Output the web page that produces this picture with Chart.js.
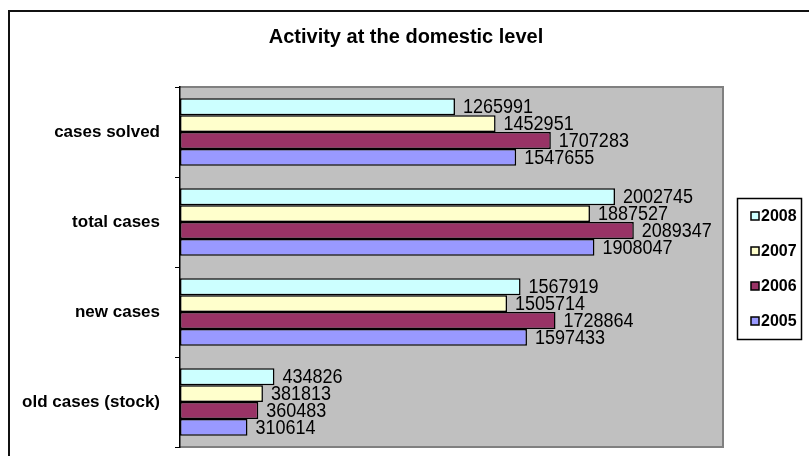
<!DOCTYPE html>
<html>
<head>
<meta charset="utf-8">
<title>Activity at the domestic level</title>
<script src="https://cdn.jsdelivr.net/npm/chart.js@4.4.1/dist/chart.umd.min.js"></script>
<style>
  html, body { margin: 0; padding: 0; background: #fff; }
  #wrap { width: 809px; height: 456px; }
</style>
</head>
<body>
<div id="wrap"><canvas id="activityChart" width="809" height="456"></canvas></div>
<script>
// ---------- data ----------
const categories = ['cases solved', 'total cases', 'new cases', 'old cases (stock)'];
const years      = ['2008', '2007', '2006', '2005'];
const v2008 = [1265991, 2002745, 1567919, 434826];
const v2007 = [1452951, 1887527, 1505714, 381813];
const v2006 = [1707283, 2089347, 1728864, 360483];
const v2005 = [1547655, 1908047, 1597433, 310614];
const xMax  = 2500000;

const COLORS = ['#ccffff', '#ffffcc', '#993366', '#9999ff'];
const FONT = "'Liberation Sans', Arial, sans-serif";
const TITLE = 'Activity at the domestic level';

// ---------- frame: outer border, title, grey plot area ----------
const framePlugin = {
  id: 'frame',
  beforeDraw(chart) {
    const ctx = chart.ctx;
    const a = chart.chartArea;
    ctx.save();
    ctx.fillStyle = '#fff';
    ctx.fillRect(0, 0, chart.width, chart.height);

    // outer chart border (right/bottom sides fall outside the picture)
    ctx.strokeStyle = '#111';
    ctx.lineWidth = 2;
    ctx.beginPath();
    ctx.moveTo(9, chart.height + 2);
    ctx.lineTo(9, 11);
    ctx.lineTo(chart.width + 2, 11);
    ctx.stroke();

    // title
    ctx.fillStyle = '#000';
    ctx.font = 'bold 20px ' + FONT;
    ctx.textAlign = 'center';
    ctx.textBaseline = 'middle';
    ctx.fillText(TITLE, 406, 37);

    // plot background
    ctx.fillStyle = '#c0c0c0';
    ctx.fillRect(a.left, a.top, a.right - a.left, a.bottom - a.top);
    ctx.strokeStyle = '#808080';
    ctx.lineWidth = 2;
    ctx.beginPath();
    ctx.moveTo(a.left, a.top);
    ctx.lineTo(a.right, a.top);
    ctx.lineTo(a.right, a.bottom);
    ctx.lineTo(a.left, a.bottom);
    ctx.stroke();
    ctx.restore();
  }
};

// ---------- value labels right of each bar (slightly condensed, like the source) ----------
const valueLabels = {
  id: 'valueLabels',
  afterDatasetsDraw(chart) {
    const ctx = chart.ctx;
    ctx.save();
    ctx.fillStyle = '#000';
    ctx.font = '20px ' + FONT;
    ctx.textAlign = 'left';
    ctx.textBaseline = 'middle';
    chart.data.datasets.forEach((ds, di) => {
      const meta = chart.getDatasetMeta(di);
      meta.data.forEach((el, i) => {
        ctx.save();
        ctx.translate(el.x + 8, el.y + 1);
        ctx.scale(0.9, 1);
        ctx.fillText(String(ds.data[i]), 0, 0);
        ctx.restore();
      });
    });
    ctx.restore();
  }
};

// ---------- boxed legend on the right ----------
const boxLegend = {
  id: 'boxLegend',
  afterDraw(chart) {
    const ctx = chart.ctx;
    ctx.save();
    ctx.strokeStyle = '#000';
    ctx.lineWidth = 1.5;
    ctx.strokeRect(737.5, 198.5, 64, 141);
    ctx.font = 'bold 16px ' + FONT;
    ctx.textAlign = 'left';
    ctx.textBaseline = 'middle';
    chart.data.datasets.forEach((ds, i) => {
      const y = 216 + i * 35;
      ctx.fillStyle = ds.backgroundColor;
      ctx.fillRect(751, y - 4, 8, 8);
      ctx.lineWidth = 1.5;
      ctx.strokeRect(751, y - 4, 8, 8);
      ctx.fillStyle = '#000';
      ctx.fillText(ds.label, 761, y + 1);
    });
    ctx.restore();
  }
};

const series = [v2008, v2007, v2006, v2005];

new Chart(document.getElementById('activityChart'), {
  type: 'bar',
  data: {
    labels: categories,
    datasets: years.map((y, i) => ({
      label: y,
      data: series[i],
      backgroundColor: COLORS[i],
      borderColor: '#000',
      borderWidth: 1.5,
      borderSkipped: false,
      categoryPercentage: 0.75,
      barPercentage: 1.0
    }))
  },
  options: {
    indexAxis: 'y',
    responsive: false,
    animation: false,
    layout: { padding: { left: 0, top: 87, right: 86, bottom: 9 } },
    plugins: {
      legend: { display: false },
      title: { display: false },
      tooltip: { enabled: false }
    },
    scales: {
      x: { display: false, min: 0, max: xMax },
      y: {
        // fixed axis width, and no extra padding for the label heights
        afterFit(scale) {
          scale.width = 180;
          scale.paddingTop = 0;
          scale.paddingBottom = 0;
        },
        border: { display: true, color: '#000', width: 1.5 },
        grid: { drawOnChartArea: false, drawTicks: true, tickLength: 5, color: '#000', lineWidth: 1 },
        ticks: { color: '#000', padding: 15, font: { family: FONT, size: 17, weight: 'bold' } }
      }
    }
  },
  plugins: [framePlugin, valueLabels, boxLegend]
});
</script>
</body>
</html>
